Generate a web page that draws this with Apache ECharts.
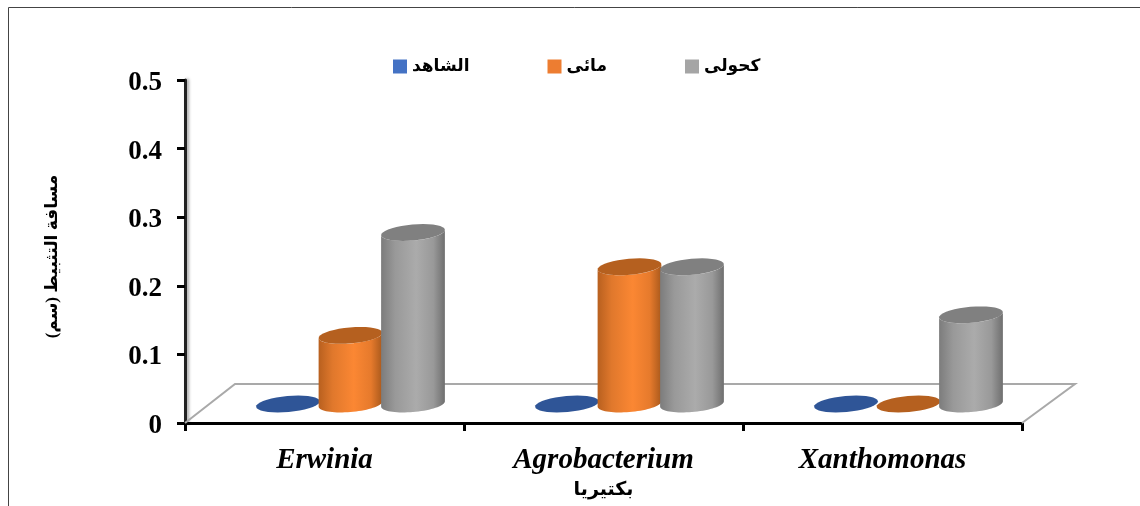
<!DOCTYPE html>
<html>
<head>
<meta charset="utf-8">
<style>html,body{margin:0;padding:0;background:#fff}#chart{width:1140px;height:506px}</style>
<script src="https://cdn.jsdelivr.net/npm/echarts@6/dist/echarts.min.js"></script>
</head>
<body>
<div id="chart"></div>
<script>
const categories = ['Erwinia', 'Agrobacterium', 'Xanthomonas'];
const controlName = 'الشاهد';
const aqueousName = 'مائى';
const alcoholName = 'كحولى';
const controlValues = [0, 0, 0];
const aqueousValues = [0.1, 0.2, 0];
const alcoholValues = [0.25, 0.2, 0.13];
const yTitle = 'مسافة التثبيط (سم)';
const xTitle = 'بكتيريا';

const SERIF = '"Liberation Serif","DejaVu Serif",serif';
const ARABIC = '"Liberation Serif","DejaVu Sans",sans-serif';

// Pseudo-3D geometry: the columns stand halfway back on the tilted floor.
const DEPTH_X = 50, DEPTH_Y = 39;
const COLUMN_RISE = 19;
const TILT = -5 * Math.PI / 180;
const RX = 32, RY = 8;
const SIDE_ANGLE = Math.atan(-(RY / RX) * Math.tan(TILT));

function ellipsePoint(cx, cy, t) {
  const x = RX * Math.cos(t), y = RY * Math.sin(t);
  return [cx + x * Math.cos(TILT) - y * Math.sin(TILT), cy + x * Math.sin(TILT) + y * Math.cos(TILT)];
}
function arc(cx, cy, from, to) {
  const pts = [];
  for (let i = 0; i <= 36; i++) pts.push(ellipsePoint(cx, cy, from + (to - from) * i / 36));
  return pts;
}
function cylinderRenderer(seriesIndex, topColor, stops) {
  return function (params, api) {
    const band = api.size([1, 0])[0];
    const shift = (seriesIndex - 1) * band * 0.224;
    const top = api.coord([api.value(0), api.value(1)]);
    const base = api.coord([api.value(0), 0]);
    const x = top[0] + shift + DEPTH_X / 2 + 1;
    const yTop = top[1] - COLUMN_RISE;
    const yBase = base[1] - COLUMN_RISE;
    const children = [];
    if (api.value(1) > 0) {
      // Side wall: upper rim's near half joined to the lower rim's near half.
      const wall = arc(x, yBase, SIDE_ANGLE, SIDE_ANGLE + Math.PI)
        .concat(arc(x, yTop, SIDE_ANGLE + Math.PI, SIDE_ANGLE));
      children.push({
        type: 'polygon',
        shape: { points: wall },
        style: { fill: new echarts.graphic.LinearGradient(0, 0, 1, 0, stops) }
      });
    }
    children.push({ type: 'polygon', shape: { points: arc(x, yTop, 0, Math.PI * 2) }, style: { fill: topColor } });
    return { type: 'group', children };
  };
}

const orangeStops = [
  { offset: 0, color: '#b8601f' }, { offset: 0.22, color: '#e0782c' },
  { offset: 0.55, color: '#fb8733' }, { offset: 0.82, color: '#e67a2c' }, { offset: 1, color: '#a9591c' }
];
const grayStops = [
  { offset: 0, color: '#7c7c7c' }, { offset: 0.22, color: '#999999' },
  { offset: 0.55, color: '#ababab' }, { offset: 0.82, color: '#999999' }, { offset: 1, color: '#6f6f6f' }
];
const blueStops = [
  { offset: 0, color: '#2f5597' }, { offset: 1, color: '#2f5597' }
];

function cylinderSeries(name, values, index, legendColor, topColor, stops) {
  return {
    type: 'custom',
    name,
    coordinateSystem: 'cartesian2d',
    itemStyle: { color: legendColor },
    encode: { x: 0, y: 1 },
    data: values.map((v, i) => [i, v]),
    renderItem: cylinderRenderer(index, topColor, stops),
    z: 3 + index
  };
}

// Floor of the plot: a parallelogram leaning back from the category axis.
const floorSeries = {
  type: 'custom',
  silent: true,
  coordinateSystem: 'cartesian2d',
  data: [[0, 0]],
  encode: { x: 0, y: 1 },
  renderItem: function (params, api) {
    const band = api.size([1, 0])[0];
    const o = api.coord([0, 0]);
    const left = o[0] - band / 2, right = o[0] + band * 2.5, y = o[1];
    return {
      type: 'polyline',
      shape: { points: [[left, y], [left + DEPTH_X, y - DEPTH_Y], [right + DEPTH_X + 3, y - DEPTH_Y], [right, y]] },
      style: { stroke: '#a9a9a9', lineWidth: 2, fill: null }
    };
  },
  z: 1
};

const chart = echarts.init(document.getElementById('chart'), null, { renderer: 'canvas' });
chart.setOption({
  animation: false,
  backgroundColor: '#ffffff',
  graphic: [
    { type: 'polyline', silent: true, shape: { points: [[8.5, 506], [8.5, 7.5], [1140, 7.5]] }, style: { stroke: '#444444', lineWidth: 1, fill: null } }
  ],
  legend: {
    left: 388,
    top: 53,
    icon: 'rect',
    itemWidth: 14,
    itemHeight: 14,
    itemGap: 78,
    selectedMode: false,
    textStyle: { fontFamily: ARABIC, fontWeight: 'bold', fontSize: 17, color: '#000' },
    data: [controlName, aqueousName, alcoholName]
  },
  grid: { left: 185, right: 118, top: 80, bottom: 83, containLabel: false },
  xAxis: {
    type: 'category',
    data: categories,
    name: xTitle,
    nameLocation: 'middle',
    nameGap: 58,
    nameTextStyle: { fontFamily: ARABIC, fontWeight: 'bold', fontSize: 19, color: '#000' },
    axisLine: { lineStyle: { color: '#000', width: 3 } },
    axisTick: { show: true, length: 8, lineStyle: { color: '#000', width: 3 } },
    axisLabel: { fontFamily: SERIF, fontStyle: 'italic', fontWeight: 'bold', fontSize: 29, color: '#000', margin: 23 },
    splitLine: { show: false }
  },
  yAxis: {
    type: 'value',
    min: 0,
    max: 0.5,
    interval: 0.1,
    name: yTitle,
    nameLocation: 'middle',
    nameRotate: 90,
    nameGap: 124,
    nameTextStyle: { fontFamily: ARABIC, fontWeight: 'bold', fontSize: 17, color: '#000', padding: [0, 10, 0, 0] },
    axisLine: { show: true, lineStyle: { color: '#222', width: 3, shadowColor: 'rgba(0,0,0,0.35)', shadowBlur: 3, shadowOffsetX: 2 } },
    axisTick: { show: true, length: 8, lineStyle: { color: '#000', width: 3 } },
    axisLabel: { fontFamily: SERIF, fontWeight: 'bold', fontSize: 27, color: '#000', margin: 23, verticalAlign: 'top', lineHeight: 6 },
    splitLine: { show: false }
  },
  series: [
    floorSeries,
    cylinderSeries(controlName, controlValues, 0, '#4472c4', '#2f5597', blueStops),
    cylinderSeries(aqueousName, aqueousValues, 1, '#ed7d31', '#b5601f', orangeStops),
    cylinderSeries(alcoholName, alcoholValues, 2, '#a5a5a5', '#808080', grayStops)
  ]
});
</script>
</body>
</html>
